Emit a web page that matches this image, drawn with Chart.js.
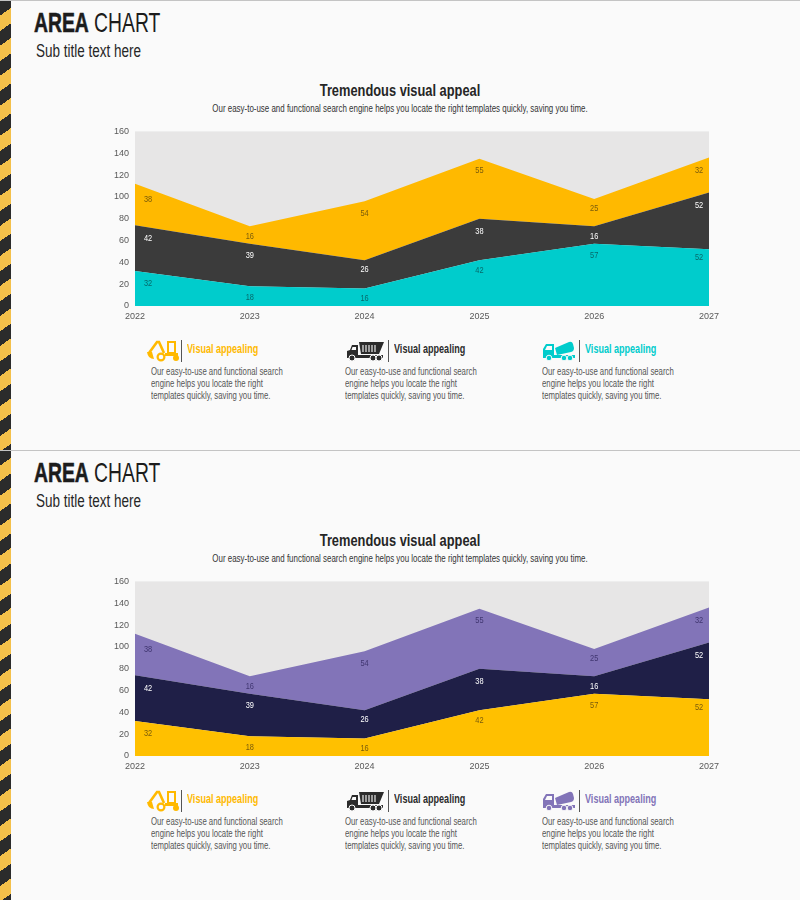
<!DOCTYPE html>
<html>
<head>
<meta charset="utf-8">
<script src="https://cdn.jsdelivr.net/npm/chart.js@4/dist/chart.umd.min.js"></script>
<style>
  html, body { margin: 0; padding: 0; background: #fafafa; }
  body { width: 800px; height: 900px; overflow: hidden; font-family: "Liberation Sans", sans-serif; }
  .panel { position: absolute; left: 0; width: 800px; height: 450px; border-top: 1px solid #c4c4c4; box-sizing: border-box; overflow: hidden; }
  .stripes { position: absolute; left: 0; top: 0; width: 11px; height: 100%;
    background: repeating-linear-gradient(145deg, #2b2b2b 0, #2b2b2b 12px, #f4c04a 12px, #f4c04a 24.6px); }
  /* no condensed font is installed, so the text is squeezed to the reference widths */
  .t { position: absolute; white-space: nowrap; transform-origin: left top; }
  .head { left: 34px; top: 6px; font-size: 28px; color: #1c1c1c; transform: scaleX(0.69); }
  .head b { font-weight: 700; -webkit-text-stroke: 0.6px #1c1c1c; }
  .sub { left: 36px; top: 40px; font-size: 18px; color: #262626; transform: scaleX(0.75); }
  .title { left: 0; width: 800px; top: 80px; text-align: center; font-size: 17px; font-weight: 700; color: #262626; transform-origin: center top; transform: scaleX(0.755); }
  .desc { left: 0; width: 800px; top: 101px; text-align: center; font-size: 10.5px; color: #333; transform-origin: center top; transform: scaleX(0.756); }
  canvas { position: absolute; left: 100px; top: 119px; }
  .rule { position: absolute; top: 339px; width: 1px; height: 22px; background: #555; }
  .ltitle { top: 340px; font-size: 13.5px; font-weight: 700; transform: scaleX(0.67); }
  .ltext { top: 364px; font-size: 10.5px; line-height: 12px; color: #555; white-space: pre; transform: scaleX(0.74); }
  svg { position: absolute; top: 339px; }
</style>
</head>
<body>
<script>
const years = ['2022', '2023', '2024', '2025', '2026', '2027'];
const lowerValues = [32, 18, 16, 42, 57, 52];
const middleValues = [42, 39, 26, 38, 16, 52];
const upperValues = [38, 16, 54, 55, 25, 32];

// how far each value label sits above the middle of its band, in pixels
const lowerLift = [5, -1, -1, 13, 20, 20];
const middleLift = [10, 10, 5, 8, -1, 16];
const upperLift = [5, -1, 17, 18, 4, 5];

const palettes = [
  { lower: '#00cccc', middle: '#3b3b3b', upper: '#ffb900', lowerText: '#066a6b', upperText: '#7a5c0c', first: '#ffb900', third: '#00cccc' },
  { lower: '#ffc000', middle: '#1f1f47', upper: '#8274b8', lowerText: '#7a5c0c', upperText: '#403670', first: '#ffb900', third: '#8274b8' }
];

const icons = {
  digger: '<path d="M2 13 L10 2 L12 2 L17 13" fill="none" stroke="currentColor" stroke-width="2.6"/><path d="M0 12 q1 7 7 7 l-2-7z" fill="currentColor"/><path d="M21 2h7v11h-7z" fill="none" stroke="currentColor" stroke-width="2"/><path d="M18 13h13v3H18z" fill="currentColor"/><circle cx="14" cy="17" r="3.4" fill="none" stroke="currentColor" stroke-width="2.2"/><circle cx="29" cy="18" r="3" fill="currentColor"/>',
  dump: '<path d="M14 2H39L34 14H16z" fill="currentColor"/><path d="M18 5v7M21 5v7M24 5v7M27 5v7M30 5v7" stroke="#fafafa" stroke-width="1.1"/><path d="M2 16V11L5 10L7 5H13V15H38V18H2z" fill="currentColor"/><path d="M7.5 7H11V10H6.5z" fill="#fafafa"/><circle cx="7" cy="18" r="3" fill="currentColor" stroke="#fafafa"/><circle cx="28" cy="18" r="3" fill="currentColor" stroke="#fafafa"/><circle cx="34" cy="18" r="3" fill="currentColor" stroke="#fafafa"/>',
  mixer: '<path d="M13 8L27 2q3-1 4 2l1 4q0 3-3 4L15 15z" fill="currentColor"/><path d="M1 18V9L4 4H12V15H33V18z" fill="currentColor"/><path d="M5 6H10V10H3z" fill="#fafafa"/><circle cx="7" cy="18" r="2.8" fill="currentColor" stroke="#fafafa"/><circle cx="22" cy="18" r="2.8" fill="currentColor" stroke="#fafafa"/><circle cx="28" cy="18" r="2.8" fill="currentColor" stroke="#fafafa"/>'
};

const blurb = 'Our easy-to-use and functional search\nengine helps you locate the right\ntemplates quickly, saving you time.';

// grey plot background and the value labels
const areaExtras = {
  id: 'areaExtras',
  beforeDraw(chart) {
    const { ctx, chartArea: a } = chart;
    ctx.save();
    ctx.fillStyle = '#e7e6e6';
    ctx.fillRect(a.left, a.top, a.right - a.left, a.bottom - a.top);
    ctx.restore();
  },
  afterDatasetsDraw(chart) {
    const { ctx, scales } = chart;
    const sums = years.map(() => 0);
    ctx.font = '9.5px "Liberation Sans", sans-serif';
    ctx.textAlign = 'center';
    ctx.textBaseline = 'middle';
    chart.data.datasets.forEach((ds) => {
      ctx.fillStyle = ds.labelColor;
      ds.data.forEach((v, i) => {
        let x = scales.x.getPixelForValue(i);
        if (i === 0) x += 13;
        if (i === years.length - 1) x -= 10;
        const y = scales.y.getPixelForValue(sums[i] + v / 2) - ds.lift[i];
        ctx.save();
        ctx.translate(x, y);
        ctx.scale(0.78, 1);
        ctx.fillText(v, 0, 0);
        ctx.restore();
        sums[i] += v;
      });
    });
  }
};

function addText(panel, cls, html) {
  const el = document.createElement('div');
  el.className = 't ' + cls;
  el.innerHTML = html;
  panel.appendChild(el);
}

function legendItem(panel, icon, color, iconX, iconW, ruleX, textX) {
  panel.insertAdjacentHTML('beforeend',
    `<svg style="left:${iconX}px;color:${color}" width="${iconW}" height="22" viewBox="0 0 ${iconW} 22">${icons[icon]}</svg>` +
    `<div class="rule" style="left:${ruleX}px"></div>`);
  const title = document.createElement('div');
  title.className = 't ltitle';
  title.style.left = ruleX + 6 + 'px';
  title.style.color = color;
  title.textContent = 'Visual appealing';
  panel.appendChild(title);
  const text = document.createElement('div');
  text.className = 't ltext';
  text.style.left = textX + 'px';
  text.textContent = blurb;
  panel.appendChild(text);
}

function renderPanel(top, p) {
  const panel = document.createElement('div');
  panel.className = 'panel';
  panel.style.top = top + 'px';
  document.body.appendChild(panel);

  panel.insertAdjacentHTML('beforeend', '<div class="stripes"></div>');
  addText(panel, 'head', '<b>AREA</b> CHART');
  addText(panel, 'sub', 'Sub title text here');
  addText(panel, 'title', 'Tremendous visual appeal');
  addText(panel, 'desc', 'Our easy-to-use and functional search engine helps you locate the right templates quickly, saving you time.');

  legendItem(panel, 'digger', p.first, 147, 33, 181, 151);
  legendItem(panel, 'dump', '#2b2b2b', 345, 40, 388, 345);
  legendItem(panel, 'mixer', p.third, 542, 33, 579, 542);

  const canvas = document.createElement('canvas');
  canvas.style.width = '630px';
  canvas.style.height = '205px';
  canvas.width = 630;
  canvas.height = 205;
  panel.appendChild(canvas);

  new Chart(canvas.getContext('2d'), {
    type: 'line',
    data: {
      labels: years,
      datasets: [
        { data: lowerValues, backgroundColor: p.lower, fill: 'origin', lift: lowerLift, labelColor: p.lowerText },
        { data: middleValues, backgroundColor: p.middle, fill: '-1', lift: middleLift, labelColor: '#ffffff' },
        { data: upperValues, backgroundColor: p.upper, fill: '-1', lift: upperLift, labelColor: p.upperText }
      ]
    },
    options: {
      responsive: false,
      animation: false,
      devicePixelRatio: 1,
      layout: { padding: { top: 10, right: 21, bottom: 0, left: 0 } },
      elements: { point: { radius: 0 }, line: { borderWidth: 0, tension: 0 } },
      scales: {
        x: {
          offset: false,
          grid: { display: false, drawTicks: false },
          border: { display: false },
          afterFit: (s) => { s.height = 19; },
          ticks: { color: '#595959', font: { size: 9, family: 'Liberation Sans' }, maxRotation: 0, padding: 5 }
        },
        y: {
          stacked: true,
          min: 0,
          max: 160,
          grid: { display: false, drawTicks: false },
          border: { display: false },
          afterFit: (s) => { s.width = 35; },
          ticks: { stepSize: 20, color: '#595959', font: { size: 9, family: 'Liberation Sans' }, padding: 6 }
        }
      },
      plugins: { legend: { display: false }, tooltip: { enabled: false } }
    },
    plugins: [areaExtras]
  });
}

renderPanel(0, palettes[0]);
renderPanel(450, palettes[1]);
</script>
</body>
</html>
